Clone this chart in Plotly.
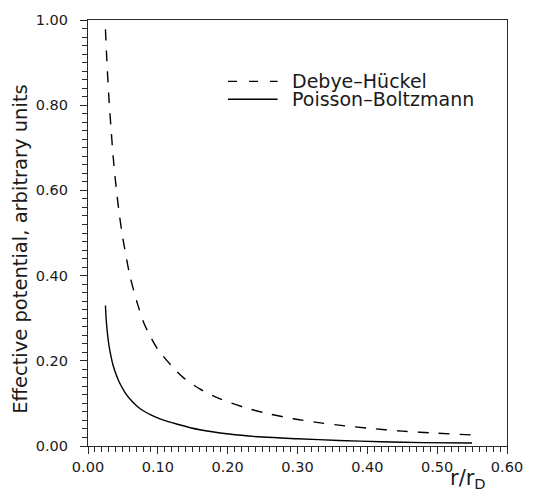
import plotly.graph_objects as go

# Debye-Hückel (dashed) curve
dh_x = [0.025, 0.027, 0.030, 0.033, 0.036, 0.040, 0.045, 0.050, 0.060, 0.071,
        0.080, 0.090, 0.100, 0.123, 0.137, 0.160, 0.190, 0.225, 0.260, 0.294,
        0.330, 0.359, 0.400, 0.450, 0.500, 0.550]
dh_y = [0.978, 0.905, 0.815, 0.745, 0.680, 0.612, 0.542, 0.487, 0.400, 0.333,
        0.289, 0.255, 0.227, 0.182, 0.160, 0.134, 0.110, 0.090, 0.075, 0.064,
        0.055, 0.049, 0.042, 0.035, 0.030, 0.026]

# Poisson-Boltzmann (solid) curve
pb_x = [0.025, 0.026, 0.028, 0.030, 0.033, 0.036, 0.040, 0.045, 0.054, 0.063,
        0.072, 0.081, 0.090, 0.104, 0.128, 0.160, 0.202, 0.250, 0.300, 0.359,
        0.420, 0.480, 0.550]
pb_y = [0.330, 0.298, 0.262, 0.236, 0.210, 0.189, 0.169, 0.149, 0.123, 0.105,
        0.091, 0.081, 0.073, 0.063, 0.051, 0.038, 0.028, 0.021, 0.017, 0.013,
        0.010, 0.008, 0.007]

x_ticks = [0.0, 0.1, 0.2, 0.3, 0.4, 0.5, 0.6]
y_ticks = [0.0, 0.2, 0.4, 0.6, 0.8, 1.0]

series_names = ["Debye\u2013Hückel", "Poisson\u2013Boltzmann"]

FONT = "DejaVu Sans"
TXT = "#1a1a1a"
AX = "#2a2a2a"

fig = go.Figure()
fig.add_trace(go.Scatter(x=dh_x, y=dh_y, mode="lines", name=series_names[0],
                         line=dict(color="black", width=1.4, dash="11px,10px",
                                   shape="spline", smoothing=0.8)))
fig.add_trace(go.Scatter(x=pb_x, y=pb_y, mode="lines", name=series_names[1],
                         line=dict(color="black", width=1.4, shape="spline", smoothing=0.8)))

L, R, T, B = 88, 16, 16, 51
W, H = 535, 497
pw = W - L - R
ph = H - T - B


def px_x(px):
    return (px - L) / pw


def px_y(py):
    return (H - B - py) / ph


axis_common = dict(showline=True, linecolor=AX, linewidth=1.2, mirror=True,
                   ticks="outside", ticklen=7, tickwidth=1.1, tickcolor=AX,
                   showgrid=False, zeroline=False, tickformat=".2f",
                   ticklabeloverflow="allow",
                   tickfont=dict(family=FONT, size=14.5, color=TXT))

fig.update_xaxes(range=[0, 0.6], tickvals=x_ticks,
                 minor=dict(dtick=0.01, ticks="outside", ticklen=5, tickcolor=AX, tickwidth=1),
                 **axis_common)
fig.update_yaxes(range=[0, 1.0], tickvals=y_ticks,
                 minor=dict(dtick=0.02, ticks="outside", ticklen=5, tickcolor=AX, tickwidth=1),
                 ticklabelstandoff=9,
                 **axis_common)

# legend drawn as key lines + text
legend_y = [78, 96]
dashes = ["9px,12px", "solid"]
for name, yy, d in zip(series_names, legend_y, dashes):
    fig.add_shape(type="line", xref="paper", yref="paper",
                  x0=px_x(232), x1=px_x(283), y0=px_y(yy), y1=px_y(yy),
                  line=dict(color="black", width=1.3, dash=d))
    fig.add_annotation(xref="paper", yref="paper", x=px_x(296), y=px_y(yy),
                       text=name, showarrow=False, xanchor="left", yanchor="middle",
                       font=dict(family=FONT, size=19, color=TXT))

fig.add_annotation(xref="paper", yref="paper", x=px_x(18.5), y=px_y(247.5),
                   text="Effective potential, arbitrary units", textangle=-90,
                   showarrow=False, xanchor="center", yanchor="middle",
                   font=dict(family=FONT, size=19.5, color=TXT))
fig.add_annotation(xref="paper", yref="paper", x=px_x(479), y=px_y(479),
                   text="r/r<sub>D</sub>", showarrow=False,
                   xanchor="center", yanchor="middle",
                   font=dict(family=FONT, size=21, color=TXT))

fig.update_layout(width=W, height=H, margin=dict(l=L, r=R, t=T, b=B),
                  paper_bgcolor="white", plot_bgcolor="white", showlegend=False)

fig.write_html("out.html")
